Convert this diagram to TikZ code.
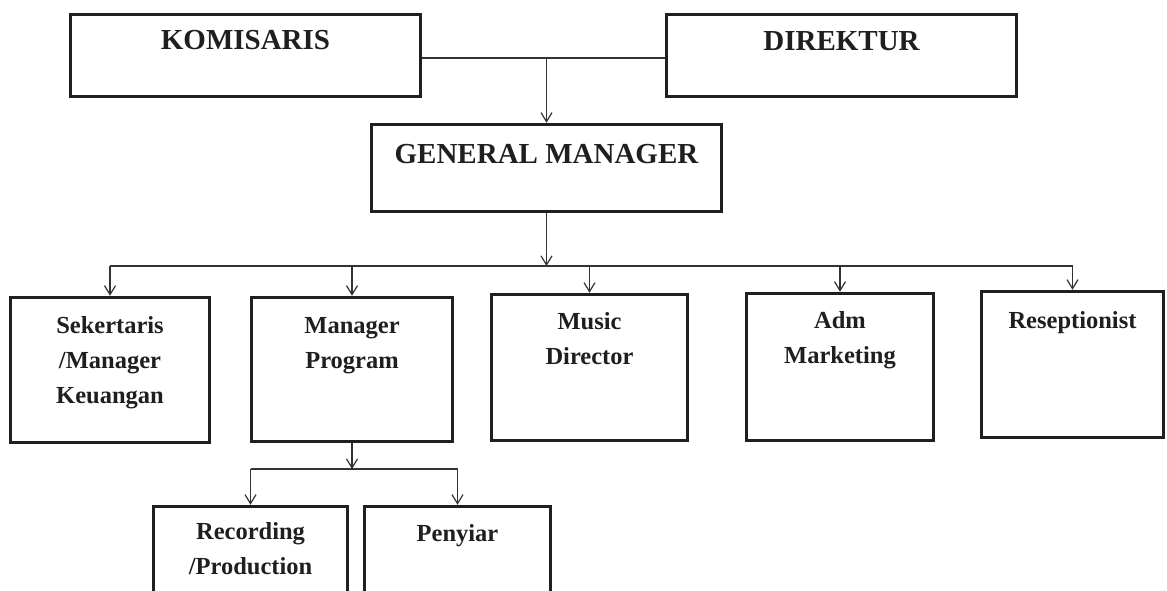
\documentclass[tikz,border=0pt]{standalone}
\usepackage{fontspec}
\setmainfont{Liberation Serif}
\usetikzlibrary{arrows.meta}
\begin{document}
\begin{tikzpicture}[x=1pt,y=-1pt,
  box/.style={draw=black!88, line width=3.5pt, rectangle, inner sep=0pt},
  bigtxt/.style={font=\bfseries\fontsize{29}{34}\selectfont, text=black!88, anchor=base, inner sep=0pt},
  smalltxt/.style={font=\bfseries\fontsize{24.5}{35}\selectfont, text=black!88, anchor=base, inner sep=0pt, align=center},
  conn/.style={draw=black!80, line width=1.1pt},
  arr/.style={conn, -{Straight Barb[length=9pt,width=11pt,line width=1.2pt]}}]
\path[use as bounding box, fill=white] (0,0) rectangle (1167,590);
\clip (0,0) rectangle (1167,590);
% top row
\node[box, minimum width=350pt, minimum height=82pt] (kom) at (245.5,55.5) {};
\node[bigtxt] (komt) at (245.5,49) {KOMISARIS};
\node[box, minimum width=350pt, minimum height=82pt] (dir) at (841.5,55.5) {};
\node[bigtxt] (dirt) at (841.5,50) {DIREKTUR};
\node[box, minimum width=350pt, minimum height=87pt] (gm) at (546.5,168) {};
\node[bigtxt] (gmt) at (546.5,163) {GENERAL MANAGER};
% second row (text anchored at the baseline of its last line)
\node[box, minimum width=199pt, minimum height=145pt] (sek) at (110,370) {};
\node[smalltxt] (sekt) at (110,403) {Sekertaris\\/Manager\\Keuangan};
\node[box, minimum width=201pt, minimum height=144pt] (mp) at (352,369.5) {};
\node[smalltxt] (mpt) at (352,368) {Manager\\Program};
\node[box, minimum width=196pt, minimum height=146pt] (md) at (589.5,367.5) {};
\node[smalltxt] (mdt) at (589.5,364) {Music\\Director};
\node[box, minimum width=187pt, minimum height=147pt] (adm) at (840,367) {};
\node[smalltxt] (admt) at (840,363) {Adm\\Marketing};
\node[box, minimum width=182pt, minimum height=146pt] (res) at (1072.5,364.5) {};
\node[smalltxt] (rest) at (1072.5,328) {Reseptionist};
% third row
\node[box, minimum width=194pt, minimum height=147pt] (rec) at (250.5,580) {};
\node[smalltxt] (rect) at (250.5,574) {Recording\\/Production};
\node[box, minimum width=186pt, minimum height=147pt] (pen) at (457.5,580) {};
\node[smalltxt] (pent) at (457.5,541) {Penyiar};
% junction coordinates
\coordinate (top) at (546.5,58);
\coordinate (bus) at (546.5,266);
\coordinate (bus2) at (352,469);
% connectors
\draw[conn] (kom.east |- top) -- (dir.west |- top);
\draw[arr] (top) -- (gm.north);
\draw[arr] (gm.south) -- (bus);
\draw[conn] (sek.north |- bus) -- (res.north |- bus);
\draw[arr] (sek.north |- bus) -- (sek.north);
\draw[arr] (mp.north |- bus) -- (mp.north);
\draw[arr] (md.north |- bus) -- (md.north);
\draw[arr] (adm.north |- bus) -- (adm.north);
\draw[arr] (res.north |- bus) -- (res.north);
\draw[arr] (mp.south) -- (bus2);
\draw[conn] (rec.north |- bus2) -- (pen.north |- bus2);
\draw[arr] (rec.north |- bus2) -- (rec.north);
\draw[arr] (pen.north |- bus2) -- (pen.north);
\end{tikzpicture}
\end{document}
